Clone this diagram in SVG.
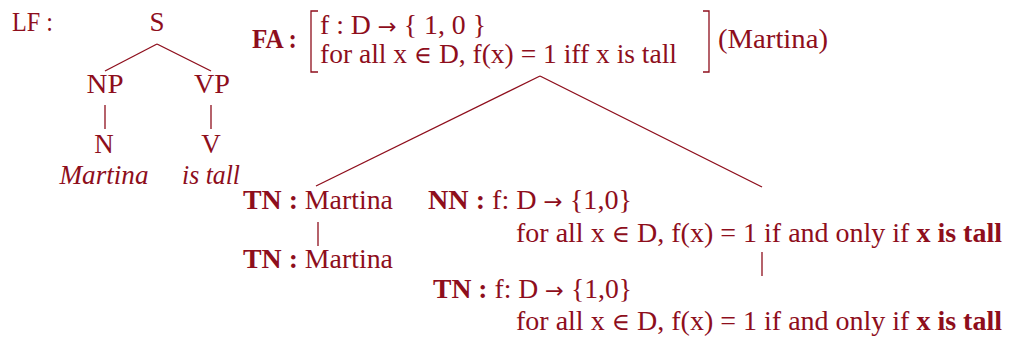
<svg xmlns="http://www.w3.org/2000/svg" width="1009" height="337" viewBox="0 0 1009 337">
<style>
text{font-family:"Liberation Serif","Times New Roman",serif;font-size:27px;fill:#8e0e1c}
.b{font-weight:bold}
.i{font-style:italic}
.m{text-anchor:middle}
.ar{font-family:"DejaVu Sans",sans-serif;font-size:22px}
.el{font-family:"DejaVu Serif",serif;font-size:24px}
line,path{stroke:#8e0e1c;stroke-width:1.3;fill:none}
</style>
<rect width="1009" height="337" fill="#ffffff"/>
<g id="lf-label"><text x="12" y="31" textLength="41" lengthAdjust="spacingAndGlyphs">LF :</text></g>
<g id="node-S"><text class="m" x="157" y="31">S</text></g>
<g id="node-NP"><text class="m" x="105" y="93" textLength="37" lengthAdjust="spacingAndGlyphs">NP</text></g>
<g id="node-VP"><text class="m" x="212" y="93" textLength="36" lengthAdjust="spacingAndGlyphs">VP</text></g>
<g id="node-N"><text class="m" x="104" y="153">N</text></g>
<g id="node-V"><text class="m" x="211" y="153">V</text></g>
<g id="leaf-martina"><text class="m i" x="104" y="184" textLength="89" lengthAdjust="spacingAndGlyphs">Martina</text></g>
<g id="leaf-istall"><text class="m i" x="211" y="184" textLength="58" lengthAdjust="spacingAndGlyphs">is tall</text></g>
<g id="node-FA">
<text class="b" x="252" y="48" textLength="45" lengthAdjust="spacingAndGlyphs">FA :</text>
<path d="M318,11 H311 V72 H318"/>
<text x="320" y="34" textLength="166" lengthAdjust="spacingAndGlyphs">f : D <tspan class="ar">→</tspan> { 1, 0 }</text>
<text x="320" y="63" textLength="357" lengthAdjust="spacingAndGlyphs">for all x <tspan class="el">∈</tspan> D, f(x) = 1 iff x is tall</text>
<path d="M703,11 H709 V72 H703"/>
<text x="718" y="48" textLength="110" lengthAdjust="spacingAndGlyphs">(Martina)</text>
</g>
<g id="node-TN1"><text x="243" y="209" textLength="150" lengthAdjust="spacingAndGlyphs"><tspan class="b">TN :</tspan> Martina</text></g>
<g id="node-TN2"><text x="243" y="268" textLength="150" lengthAdjust="spacingAndGlyphs"><tspan class="b">TN :</tspan> Martina</text></g>
<g id="node-NN">
<text x="428" y="209" textLength="204" lengthAdjust="spacingAndGlyphs"><tspan class="b">NN :</tspan> f: D <tspan class="ar">→</tspan> {1,0}</text>
<text x="516" y="242" textLength="486" lengthAdjust="spacingAndGlyphs">for all x <tspan class="el">∈</tspan> D, f(x) = 1 if and only if <tspan class="b">x is tall</tspan></text>
</g>
<g id="node-TN3">
<text x="433" y="298" textLength="199" lengthAdjust="spacingAndGlyphs"><tspan class="b">TN :</tspan> f: D <tspan class="ar">→</tspan> {1,0}</text>
<text x="516" y="330" textLength="486" lengthAdjust="spacingAndGlyphs">for all x <tspan class="el">∈</tspan> D, f(x) = 1 if and only if <tspan class="b">x is tall</tspan></text>
</g>
<g id="connectors">
<line x1="157" y1="44" x2="105" y2="71"/>
<line x1="157" y1="44" x2="211" y2="71"/>
<line x1="105" y1="105" x2="105" y2="129"/>
<line x1="211" y1="105" x2="211" y2="129"/>
<line x1="540" y1="76" x2="316" y2="186"/>
<line x1="540" y1="76" x2="762" y2="187"/>
<line x1="318" y1="222" x2="318" y2="246"/>
<line x1="762" y1="252" x2="762" y2="276"/>
</g>
</svg>
